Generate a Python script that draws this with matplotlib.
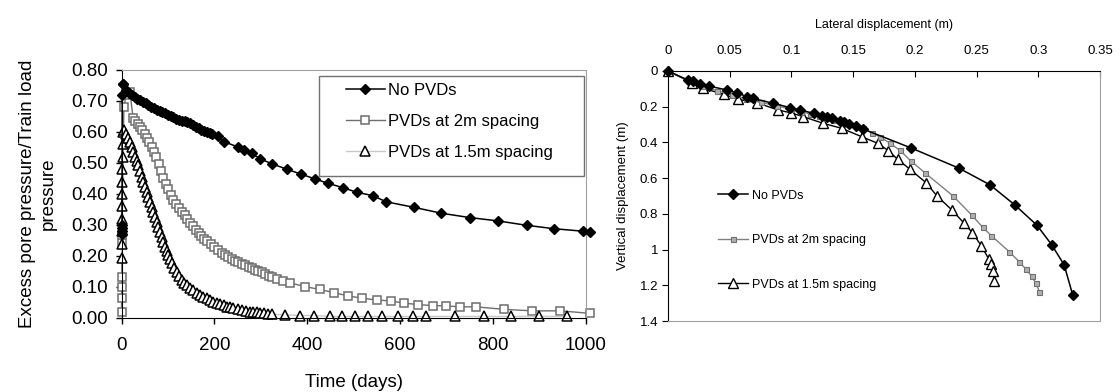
import matplotlib
matplotlib.use("Agg")
import matplotlib.pyplot as plt
import matplotlib.patches as patches
from matplotlib.ticker import FuncFormatter

plt.rcParams['font.family'] = ['Liberation Sans', 'DejaVu Sans']

# ---- left chart: excess pore pressure ratio vs time ----
t_nopvd = [0, 0.3, 0.6, 1, 1.5, 3, 4, 10, 16, 22, 28, 34, 40, 46, 52, 58, 64, 70, 76,
           82, 88, 94, 100, 106, 112, 118, 124, 130, 136, 142, 148, 154, 160, 166,
           172, 178, 184, 190, 195, 207, 220, 252, 265, 281, 299, 325, 356, 387,
           418, 446, 478, 508, 541, 570, 630, 689, 750, 812, 873, 932, 994, 1010]
u_nopvd = [0.27, 0.28, 0.29, 0.30, 0.72, 0.755, 0.755, 0.735, 0.725, 0.718, 0.712,
           0.707, 0.702, 0.697, 0.692, 0.687, 0.682, 0.677, 0.672, 0.668, 0.664,
           0.66, 0.655, 0.651, 0.647, 0.643, 0.64, 0.637, 0.634, 0.631, 0.628,
           0.622, 0.617, 0.612, 0.607, 0.603, 0.599, 0.596, 0.594, 0.587, 0.569,
           0.551, 0.542, 0.531, 0.513, 0.497, 0.480, 0.464, 0.448, 0.434, 0.420,
           0.405, 0.395, 0.375, 0.357, 0.338, 0.324, 0.313, 0.299, 0.288, 0.280,
           0.277]

t_2m = [0, 0.2, 0.4, 0.6, 0.8, 1.0, 5, 10, 18, 25, 30, 35, 40, 45, 50, 55, 60, 65,
        70, 75, 80, 85, 90, 95, 100, 106, 112, 118, 124, 130, 136, 142, 148, 154,
        160, 166, 172, 178, 185, 192, 200, 209, 216, 223, 230, 238, 245, 252, 259,
        266, 274, 281, 288, 295, 302, 310, 317, 324, 335, 349, 364, 396, 428, 457,
        489, 518, 551, 580, 609, 640, 671, 700, 730, 763, 824, 884, 945, 1010]
u_2m = [0.02, 0.064, 0.101, 0.133, 0.241, 0.268, 0.68, 0.72, 0.73, 0.645, 0.636,
        0.627, 0.615, 0.605, 0.594, 0.581, 0.567, 0.552, 0.535, 0.518, 0.498,
        0.475, 0.452, 0.433, 0.416, 0.398, 0.382, 0.368, 0.355, 0.343, 0.331,
        0.319, 0.307, 0.296, 0.285, 0.275, 0.265, 0.256, 0.248, 0.240, 0.230,
        0.219, 0.211, 0.203, 0.197, 0.190, 0.185, 0.180, 0.175, 0.170, 0.165,
        0.160, 0.156, 0.152, 0.147, 0.142, 0.137, 0.133, 0.126, 0.119, 0.113,
        0.101, 0.092, 0.082, 0.071, 0.064, 0.058, 0.055, 0.048, 0.043, 0.040,
        0.039, 0.036, 0.036, 0.028, 0.023, 0.023, 0.015]

t_15m = [0, 0.3, 0.6, 0.9, 1.2, 1.5, 1.8, 2.1, 2.4, 2.7, 3, 6, 10, 15, 18.5, 22,
         25.5, 29, 32.5, 36, 40, 43.6, 47, 50.7, 54, 57.8, 61.5, 65, 68.5, 72, 76,
         79.4, 83, 86.7, 90, 94, 97.5, 101, 104.5, 108, 113, 119, 124.5, 130, 135,
         140.7, 148, 155, 162, 169, 176, 184, 191, 198, 205, 212.5, 220, 227, 234,
         241, 250, 259, 268, 277, 284, 291.7, 299, 306, 315, 324, 353, 385, 414,
         450, 475, 504, 532, 561, 595, 628, 657, 718, 781, 840, 899, 960]
u_15m = [0.193, 0.24, 0.28, 0.32, 0.36, 0.40, 0.44, 0.48, 0.52, 0.56, 0.60, 0.605,
         0.595, 0.58, 0.567, 0.553, 0.537, 0.520, 0.507, 0.494, 0.475, 0.456,
         0.44, 0.424, 0.408, 0.391, 0.375, 0.359, 0.343, 0.327, 0.311, 0.295,
         0.278, 0.262, 0.246, 0.230, 0.216, 0.203, 0.19, 0.176, 0.162, 0.149,
         0.136, 0.123, 0.114, 0.106, 0.098, 0.090, 0.082, 0.074, 0.068, 0.063,
         0.058, 0.053, 0.049, 0.045, 0.041, 0.037, 0.034, 0.031, 0.028, 0.025,
         0.022, 0.020, 0.019, 0.018, 0.016, 0.015, 0.013, 0.012, 0.010, 0.008,
         0.008, 0.005, 0.005, 0.005, 0.005, 0.005, 0.005, 0.005, 0.005, 0.005,
         0.005, 0.005, 0.005, 0.005]

# ---- right chart: lateral vs vertical displacement ----
lat_nopvd = [0, 0.016, 0.0205, 0.026, 0.033, 0.0475, 0.0557, 0.064, 0.069, 0.085,
             0.099, 0.107, 0.118, 0.125, 0.1285, 0.133, 0.139, 0.143, 0.147, 0.152,
             0.158, 0.197, 0.236, 0.261, 0.281, 0.299, 0.311, 0.321, 0.328]
vert_nopvd = [0, 0.050, 0.056, 0.075, 0.084, 0.106, 0.121, 0.144, 0.153, 0.181,
              0.205, 0.218, 0.237, 0.250, 0.256, 0.265, 0.278, 0.287, 0.297, 0.309,
              0.325, 0.431, 0.545, 0.638, 0.750, 0.864, 0.974, 1.086, 1.256]

lat_2m = [0, 0.017, 0.028, 0.04, 0.052, 0.063, 0.075, 0.088, 0.1, 0.108, 0.115,
          0.122, 0.128, 0.134, 0.14, 0.146, 0.152, 0.158, 0.165, 0.172, 0.18,
          0.188, 0.197, 0.208, 0.231, 0.246, 0.255, 0.262, 0.2765, 0.2846, 0.290,
          0.2946, 0.298, 0.301]
vert_2m = [0, 0.055, 0.085, 0.11, 0.135, 0.155, 0.175, 0.195, 0.215, 0.228, 0.24,
           0.252, 0.262, 0.273, 0.285, 0.296, 0.308, 0.322, 0.345, 0.37, 0.405,
           0.445, 0.505, 0.569, 0.700, 0.806, 0.875, 0.922, 1.012, 1.068, 1.110,
           1.148, 1.189, 1.236]

lat_15m = [0, 0.0192, 0.0286, 0.045, 0.057, 0.0718, 0.089, 0.1, 0.1096, 0.1258,
           0.1407, 0.157, 0.170, 0.1785, 0.186, 0.196, 0.209, 0.218, 0.230, 0.240,
           0.2466, 0.254, 0.260, 0.2617, 0.263, 0.2644]
vert_15m = [0, 0.0655, 0.097, 0.13, 0.159, 0.177, 0.218, 0.235, 0.256, 0.293,
            0.321, 0.368, 0.405, 0.446, 0.494, 0.550, 0.625, 0.700, 0.778, 0.853,
            0.905, 0.980, 1.054, 1.081, 1.118, 1.174]

labels = ['No PVDs', 'PVDs at 2m spacing', 'PVDs at 1.5m spacing']

fig = plt.figure(figsize=(11.2, 3.92), dpi=100)

# ======== left ========
ax1 = fig.add_axes([0.1085, 0.1888, 0.4143, 0.6327])
l1, = ax1.plot(t_nopvd, u_nopvd, color='black', lw=1.1, marker='D', ms=5,
               mfc='black', mec='black', clip_on=False, zorder=3)
l2, = ax1.plot(t_2m, u_2m, color='#6e6e6e', lw=1.0, marker='s', ms=6,
               mfc='white', mec='#6e6e6e', mew=1.1, clip_on=False, zorder=2)
l3, = ax1.plot(t_15m, u_15m, color='#c8c8c8', lw=1.0, marker='^', ms=6.5,
               mfc='white', mec='black', mew=1.1, clip_on=False, zorder=2.5)
ax1.set_xlim(0, 1000)
ax1.set_ylim(0, 0.8)
ax1.set_xticks([0, 200, 400, 600, 800, 1000])
ax1.set_yticks([i / 10 for i in range(9)])
ax1.yaxis.set_major_formatter(FuncFormatter(lambda v, p: '%.2f' % v))
ax1.tick_params(axis='both', labelsize=13.5, direction='out', length=4, width=1)
ax1.tick_params(axis='x', pad=10)
ax1.tick_params(axis='y', pad=6)
for s in ['left', 'bottom']:
    ax1.spines[s].set_color('black')
for s in ['top', 'right']:
    ax1.spines[s].set_color('#a0a0a0')
ax1.set_xlabel('Time (days)', fontsize=13.5, labelpad=14)
ax1.set_ylabel('Excess pore pressure/Train load\npressure', fontsize=13.5,
               linespacing=1.3, labelpad=10)

# legend box drawn as a patch, entries placed inside
box = patches.Rectangle((0.4257, 0.5726), 0.5713, 0.4034, transform=ax1.transAxes,
                        facecolor='white', edgecolor='#707070', lw=1.0, zorder=4,
                        clip_on=False)
ax1.add_patch(box)
leg1 = ax1.legend([l1, l2, l3], labels, loc='upper left', frameon=False,
                  bbox_to_anchor=(0.47, 0.975), fontsize=12, handlelength=2.3,
                  handletextpad=0.2, labelspacing=0.95, borderaxespad=0)
leg1.set_zorder(5)

# ======== right ========
ax2 = fig.add_axes([0.5964, 0.1811, 0.3857, 0.6378])
r1, = ax2.plot(lat_nopvd, vert_nopvd, color='black', lw=1.1, marker='D', ms=4.6,
               mfc='black', mec='black', clip_on=False, zorder=3)
r2, = ax2.plot(lat_2m, vert_2m, color='#808080', lw=1.0, marker='s', ms=3.6,
               mfc='#b0b0b0', mec='#707070', mew=0.8, clip_on=False, zorder=2.5)
r3, = ax2.plot(lat_15m, vert_15m, color='black', lw=1.0, marker='^', ms=6.5,
               mfc='white', mec='black', mew=1.0, clip_on=False, zorder=2)
ax2.set_xlim(0, 0.35)
ax2.set_ylim(1.4, 0)
ax2.xaxis.set_ticks_position('top')
ax2.xaxis.set_label_position('top')
ax2.set_xticks([0, 0.05, 0.1, 0.15, 0.2, 0.25, 0.3, 0.35])
ax2.set_yticks([0, 0.2, 0.4, 0.6, 0.8, 1.0, 1.2, 1.4])
fmt = FuncFormatter(lambda v, p: '%g' % round(v, 2))
ax2.xaxis.set_major_formatter(fmt)
ax2.yaxis.set_major_formatter(fmt)
ax2.tick_params(axis='x', labelsize=9.5, direction='in', length=4, pad=10)
ax2.tick_params(axis='y', labelsize=9.5, direction='out', length=4, pad=3)
for s in ['left', 'top']:
    ax2.spines[s].set_color('black')
for s in ['bottom', 'right']:
    ax2.spines[s].set_color('#a0a0a0')
ax2.set_xlabel('Lateral displacement (m)', fontsize=9, labelpad=12)
ax2.set_ylabel('Vertical displacement (m)', fontsize=9.5, labelpad=8)
ax2.legend([r1, r2, r3], labels, loc='upper left', frameon=False,
           bbox_to_anchor=(0.105, 0.545), fontsize=9, handlelength=2.4,
           handletextpad=0.3, labelspacing=2.6, borderaxespad=0)

fig.savefig('out.png', dpi=100, facecolor='white')
